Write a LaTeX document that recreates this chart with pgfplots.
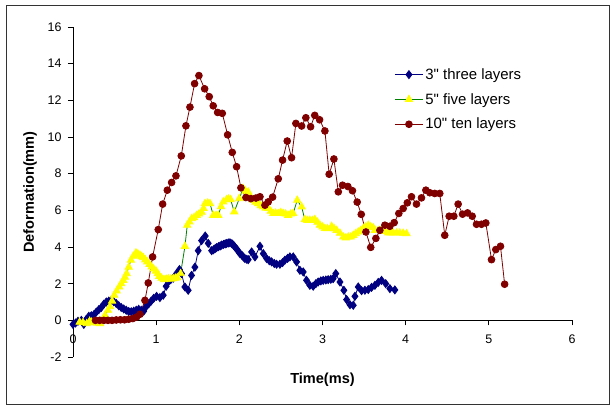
\documentclass[border=0pt]{standalone}
\usepackage{pgfplots}
\pgfplotsset{compat=1.18}
\usepackage{fontspec}
\setmainfont{Liberation Sans}
\newfontfamily\legfont{Liberation Sans}
\definecolor{navyc}{HTML}{000080}
\definecolor{yel}{HTML}{FFFF00}
\definecolor{grn}{HTML}{008000}
\definecolor{mar}{HTML}{800000}
\begin{document}
\begin{tikzpicture}
\begin{axis}[
 scale only axis, width=499bp, height=330bp,
 xmin=0, xmax=6, ymin=-2, ymax=16,
 axis x line=middle, axis y line=left,
 axis line style={-, black, line width=0.8bp},
 every inner x axis line/.append style={-},
 every outer y axis line/.append style={-},
 hide obscured x ticks=false, hide obscured y ticks=false,
 xtick={0,1,2,3,4,5,6}, ytick={-2,0,2,4,6,8,10,12,14,16},
 tick align=outside, major tick length=5bp,
 tick style={black, line width=0.8bp},
 /pgf/number format/assume math mode=true,
 ticklabel style={font=\fontsize{12.5}{14}\selectfont},
 xticklabel style={yshift=-6bp},
 yticklabel style={xshift=-3bp},
 clip=false,
 legend style={at={(rel axis cs:0.638,0.887)}, anchor=north west, draw=none, fill=none,
   font=\legfont\fontsize{15}{17}\selectfont, row sep=8.5bp, cells={anchor=west}},
 legend image code/.code={\draw[mark repeat=2,mark phase=2,#1] plot coordinates {(0bp,0bp) (14bp,0bp) (28bp,0bp)};},
]
\coordinate (sw) at (rel axis cs:0,0);
\addplot[color=navyc, line width=0.8bp, mark=diamond*, mark size=4bp, mark options={fill=navyc, draw=navyc}] coordinates {
(0.00,-0.22) (0.03,-0.15) (0.06,-0.05) (0.10,0.00) (0.13,-0.22) (0.16,0.05) (0.19,0.22) (0.22,0.25)
(0.25,0.30) (0.28,0.45) (0.31,0.58) (0.34,0.70) (0.37,0.88) (0.40,1.00) (0.43,1.05) (0.46,1.08)
(0.49,1.02) (0.52,0.92) (0.55,0.80) (0.58,0.70) (0.61,0.62) (0.64,0.55) (0.67,0.48) (0.70,0.47)
(0.73,0.50) (0.76,0.55) (0.79,0.60) (0.82,0.55) (0.85,0.50) (0.88,0.75) (0.91,0.90) (0.94,1.05)
(0.97,1.20) (1.005,1.31) (1.045,1.24) (1.085,1.37) (1.12,1.86) (1.146,2.10) (1.175,2.22) (1.205,2.30)
(1.245,2.55) (1.28,2.77) (1.305,2.55) (1.345,1.82) (1.385,1.64) (1.425,2.45) (1.466,2.90) (1.506,3.80)
(1.546,4.35) (1.59,4.60) (1.626,4.20) (1.667,3.80) (1.69,3.85) (1.71,3.92) (1.727,3.97) (1.75,4.02)
(1.77,4.06) (1.787,4.10) (1.81,4.14) (1.83,4.17) (1.847,4.19) (1.867,4.22) (1.887,4.23) (1.91,4.18)
(1.93,4.10) (1.947,4.00) (1.97,3.88) (1.99,3.75) (2.007,3.64) (2.03,3.55) (2.05,3.45) (2.067,3.37)
(2.09,3.33) (2.107,3.31) (2.148,3.73) (2.188,3.46) (2.248,4.04) (2.288,3.64) (2.328,3.37) (2.36,3.25)
(2.388,3.19) (2.42,3.10) (2.448,3.06) (2.488,3.06) (2.52,3.15) (2.548,3.28) (2.58,3.38) (2.608,3.46)
(2.648,3.46) (2.688,3.19) (2.728,2.73) (2.768,2.64) (2.808,2.18) (2.848,1.91) (2.888,1.86) (2.92,2.00)
(2.948,2.09) (2.98,2.15) (3.008,2.18) (3.04,2.20) (3.068,2.22) (3.10,2.24) (3.128,2.27) (3.16,2.55)
(3.21,2.09) (3.257,1.64) (3.29,1.13) (3.33,0.85) (3.37,0.82) (3.39,1.31) (3.43,1.82) (3.47,1.62)
(3.51,1.64) (3.55,1.68) (3.59,1.80) (3.63,1.91) (3.67,2.07) (3.71,2.18) (3.76,2.00) (3.81,1.73)
(3.87,1.66)
};
\addlegendentry{3" three layers}
\addplot[color=grn, line width=0.8bp, mark=triangle*, mark size=4.2bp, mark options={fill=yel, draw=yel}] coordinates {
(0.08,-0.10) (0.12,-0.12) (0.165,-0.18) (0.20,-0.05) (0.225,-0.10) (0.26,-0.12) (0.29,-0.15) (0.325,-0.18)
(0.36,0.05) (0.385,0.27) (0.42,0.55) (0.445,0.75) (0.47,1.05) (0.496,1.37) (0.525,1.60) (0.556,1.82)
(0.58,2.00) (0.605,2.18) (0.625,2.35) (0.645,2.55) (0.67,2.90) (0.697,3.28) (0.725,3.50) (0.757,3.68)
(0.78,3.62) (0.805,3.55) (0.825,3.48) (0.845,3.42) (0.87,3.30) (0.893,3.19) (0.92,3.05) (0.945,2.91)
(0.97,2.80) (0.998,2.69) (1.02,2.55) (1.037,2.40) (1.065,2.30) (1.094,2.22) (1.12,2.25) (1.146,2.27)
(1.175,2.25) (1.205,2.27) (1.23,2.30) (1.254,2.33) (1.294,2.55) (1.346,4.04) (1.374,5.19) (1.40,5.37)
(1.427,5.55) (1.455,5.60) (1.487,5.73) (1.515,5.80) (1.546,5.90) (1.57,6.10) (1.587,6.37) (1.62,6.40)
(1.647,6.37) (1.687,5.73) (1.72,5.73) (1.747,5.73) (1.78,6.20) (1.807,6.46) (1.847,6.59) (1.87,6.62)
(1.895,6.59) (1.939,5.92) (1.999,6.64) (2.047,7.19) (2.075,7.05) (2.107,7.00) (2.135,6.75) (2.167,6.55)
(2.195,6.45) (2.227,6.37) (2.257,6.25) (2.287,6.19) (2.317,6.12) (2.347,6.10) (2.377,5.95) (2.407,5.83)
(2.437,5.85) (2.467,5.83) (2.497,5.88) (2.527,5.83) (2.557,5.80) (2.587,5.73) (2.617,5.80) (2.647,5.83)
(2.696,6.55) (2.749,6.19) (2.788,5.50) (2.818,5.45) (2.848,5.46) (2.878,5.45) (2.908,5.50) (2.94,5.35)
(2.969,5.19) (3.00,5.10) (3.029,5.01) (3.06,5.00) (3.11,5.13) (3.14,5.00) (3.17,4.91) (3.21,4.75)
(3.25,4.55) (3.28,4.50) (3.31,4.55) (3.34,4.55) (3.37,4.64) (3.40,4.73) (3.43,4.82) (3.46,4.90)
(3.49,5.01) (3.52,5.10) (3.55,5.19) (3.58,5.10) (3.61,5.05) (3.63,4.91) (3.67,4.91) (3.71,4.91)
(3.75,4.85) (3.79,4.77) (3.82,4.77) (3.85,4.77) (3.89,4.77) (3.93,4.77) (3.97,4.75) (4.01,4.73)
};
\addlegendentry{5" five layers}
\addplot[color=mar, line width=0.8bp, mark=*, mark size=3.4bp, mark options={fill=mar, draw=mar}] coordinates {
(0.27,0.00) (0.32,0.00) (0.37,0.00) (0.42,0.00) (0.47,0.00) (0.52,0.02) (0.57,0.03) (0.62,0.03)
(0.67,0.06) (0.72,0.10) (0.765,0.18) (0.805,0.33) (0.865,1.09) (0.905,2.04) (0.957,3.46) (1.025,4.95)
(1.078,6.34) (1.134,7.10) (1.186,7.52) (1.238,7.88) (1.302,8.97) (1.358,10.61) (1.406,11.63) (1.462,12.91)
(1.514,13.35) (1.583,12.63) (1.638,12.20) (1.686,11.70) (1.739,11.34) (1.795,11.29) (1.859,10.12) (1.915,9.16)
(1.967,8.38) (2.019,7.23) (2.079,6.70) (2.139,6.64) (2.20,6.67) (2.248,6.74) (2.308,6.28) (2.347,6.46)
(2.40,6.72) (2.468,7.72) (2.52,8.74) (2.576,9.78) (2.628,8.87) (2.68,10.74) (2.749,10.60) (2.80,11.05)
(2.857,10.56) (2.907,11.18) (2.965,10.94) (3.029,10.33) (3.08,7.97) (3.137,8.80) (3.19,7.01) (3.241,7.37)
(3.305,7.30) (3.36,7.07) (3.417,6.45) (3.466,5.78) (3.522,4.82) (3.58,3.98) (3.642,4.47) (3.69,4.91)
(3.75,5.19) (3.81,5.13) (3.862,5.33) (3.918,5.83) (3.97,6.10) (4.02,6.41) (4.07,6.74) (4.13,6.34)
(4.19,6.68) (4.243,7.10) (4.29,6.96) (4.35,6.92) (4.41,6.92) (4.47,4.64) (4.523,5.68) (4.579,5.68)
(4.631,6.34) (4.684,5.79) (4.744,5.86) (4.80,5.68) (4.852,5.24) (4.912,5.24) (4.964,5.31) (5.032,3.31)
(5.084,3.86) (5.14,4.04) (5.19,1.97)
};
\addlegendentry{10" ten layers}
\end{axis}
\node[font=\bfseries\fontsize{14.6}{16}\selectfont] at ([shift={(249.5bp,-23bp)}]sw) {Time(ms)};
\node[rotate=90, font=\bfseries\fontsize{14.6}{16}\selectfont] at ([shift={(-43bp,165bp)}]sw) {Deformation(mm)};
\draw[line width=0.9bp, color=black!80] ([shift={(-67bp,-47bp)}]sw) rectangle ([shift={(536bp,352bp)}]sw);
\path ([shift={(-73bp,-49bp)}]sw) rectangle ([shift={(539bp,357bp)}]sw);
\end{tikzpicture}
\end{document}
